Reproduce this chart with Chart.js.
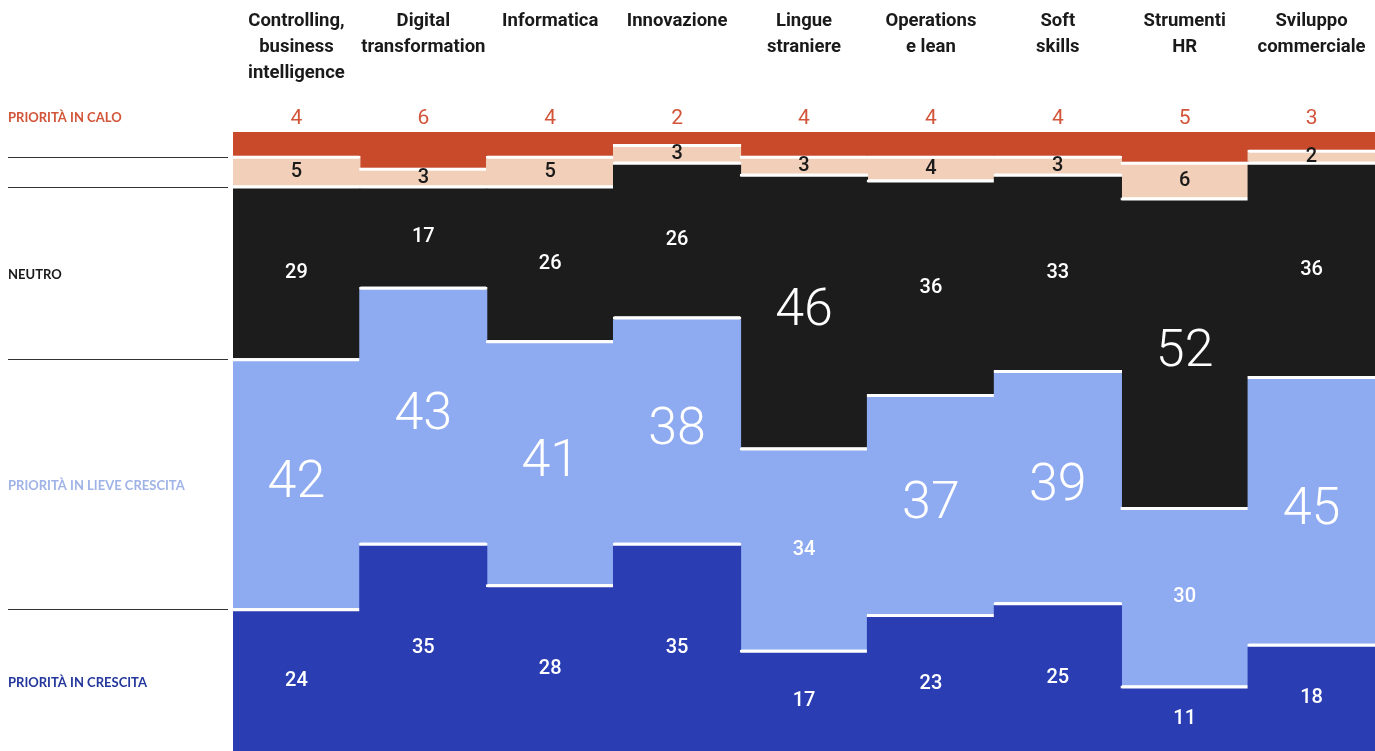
<!DOCTYPE html>
<html>
<head>
<meta charset="utf-8">
<script src="https://cdn.jsdelivr.net/npm/chart.js@4/dist/chart.umd.min.js"></script>
<style>
  html, body { margin: 0; padding: 0; background: #fff; overflow: hidden; }
  #wrap { width: 1375px; height: 751px; }
</style>
</head>
<body>
<div id="wrap"><canvas id="chart"></canvas></div>
<script>
// categorie (colonne)
const categories = [
  ['Controlling,', 'business', 'intelligence'],
  ['Digital', 'transformation'],
  ['Informatica'],
  ['Innovazione'],
  ['Lingue', 'straniere'],
  ['Operations', 'e lean'],
  ['Soft', 'skills'],
  ['Strumenti', 'HR'],
  ['Sviluppo', 'commerciale'],
];

// valori per riga, dall'alto verso il basso
const inCalo = [4, 6, 4, 2, 4, 4, 4, 5, 3];
const inLieveCalo = [5, 3, 5, 3, 3, 4, 3, 6, 2];
const neutro = [29, 17, 26, 26, 46, 36, 33, 52, 36];
const inLieveCrescita = [42, 43, 41, 38, 34, 37, 39, 30, 45];
const inCrescita = [24, 35, 28, 35, 17, 23, 25, 11, 18];

const rowLabels = ['PRIORITÀ IN CALO', '', 'NEUTRO', 'PRIORITÀ IN LIEVE CRESCITA', 'PRIORITÀ IN CRESCITA'];
const yMax = 104;

const colors = {
  calo: '#c94a2b',
  lieveCalo: '#f1cfb8',
  neutro: '#1c1c1c',
  lieveCrescita: '#8eaaf0',
  crescita: '#2a3db2',
};

const rowTextColors = ['#d2553a', '#333', '#1a1a1a', '#9fb3e6', '#23379c'];

const makeSet = (label, data, color, textColor) => ({
  label,
  data,
  backgroundColor: color,
  borderColor: '#ffffff',
  borderWidth: { top: 3, right: 0, bottom: 0, left: 0 },
  borderSkipped: false,
  barPercentage: 1.012,
  categoryPercentage: 1,
  textColor,
});

// bottom of the stack first
const datasets = [
  makeSet('crescita', inCrescita, colors.crescita, '#ffffff'),
  makeSet('lieve crescita', inLieveCrescita, colors.lieveCrescita, '#ffffff'),
  makeSet('neutro', neutro, colors.neutro, '#ffffff'),
  makeSet('lieve calo', inLieveCalo, colors.lieveCalo, '#1a1a1a'),
  makeSet('calo', inCalo, colors.calo, '#d2553a'),
];
datasets[4].borderWidth = 0;

const labelsPlugin = {
  id: 'segmentLabels',
  afterDatasetsDraw(chart) {
    const ctx = chart.ctx;
    const area = chart.chartArea;
    ctx.save();
    ctx.textAlign = 'center';
    ctx.textBaseline = 'middle';
    chart.data.datasets.forEach((ds, i) => {
      const meta = chart.getDatasetMeta(i);
      meta.data.forEach((bar, j) => {
        const v = ds.data[j];
        let y = (bar.y + bar.base) / 2;
        if (ds.label === 'calo') {
          y = area.top - 14;
          ctx.font = '400 21px Roboto';
        } else if (v >= 37) {
          ctx.font = '300 52px Roboto';
        } else {
          ctx.font = '500 20px Roboto';
        }
        ctx.fillStyle = ds.textColor;
        ctx.fillText(String(v), bar.x, y + 1);
      });
    });

    // etichette di riga a sinistra, allineate alla prima colonna
    ctx.textAlign = 'left';
    const rowsTopDown = chart.data.datasets.slice().reverse();
    const n = chart.data.datasets.length;
    rowsTopDown.forEach((ds, k) => {
      const bar = chart.getDatasetMeta(n - 1 - k).data[0];
      const label = rowLabels[k];
      if (label) {
        ctx.font = 'bold 13px Lato';
        ctx.fillStyle = rowTextColors[k];
        const y = k === 0 ? area.top - 14 : (bar.y + bar.base) / 2 + 3;
        ctx.fillText(label, 8, y);
      }
      if (k < n - 1) {
        ctx.strokeStyle = '#333';
        ctx.lineWidth = 1.2;
        ctx.beginPath();
        ctx.moveTo(8, Math.round(bar.base) + 1.5);
        ctx.lineTo(228, Math.round(bar.base) + 1.5);
        ctx.stroke();
      }
    });
    ctx.restore();
  },
};

new Chart(document.getElementById('chart'), {
  type: 'bar',
  data: { labels: categories, datasets },
  options: {
    responsive: true,
    maintainAspectRatio: false,
    animation: false,
    layout: { padding: { left: 233, right: 0, top: 0, bottom: 0 } },
    plugins: {
      legend: { display: false },
      tooltip: { enabled: false },
    },
    scales: {
      x: {
        position: 'top',
        stacked: true,
        grid: { display: false, drawTicks: false },
        border: { display: false },
        ticks: {
          autoSkip: false,
          maxRotation: 0,
          crossAlign: 'far',
          padding: 45,
          color: '#1a1a1a',
          font: { family: 'Roboto', weight: 'bold', size: 18.5, lineHeight: 1.42 },
        },
        afterFit(scale) {
          scale.height = 132;
          scale.paddingLeft = 0;
          scale.paddingRight = 0;
        },
      },
      y: {
        stacked: true,
        display: false,
        min: 0,
        max: yMax,
      },
    },
  },
  plugins: [labelsPlugin],
});
</script>
</body>
</html>
